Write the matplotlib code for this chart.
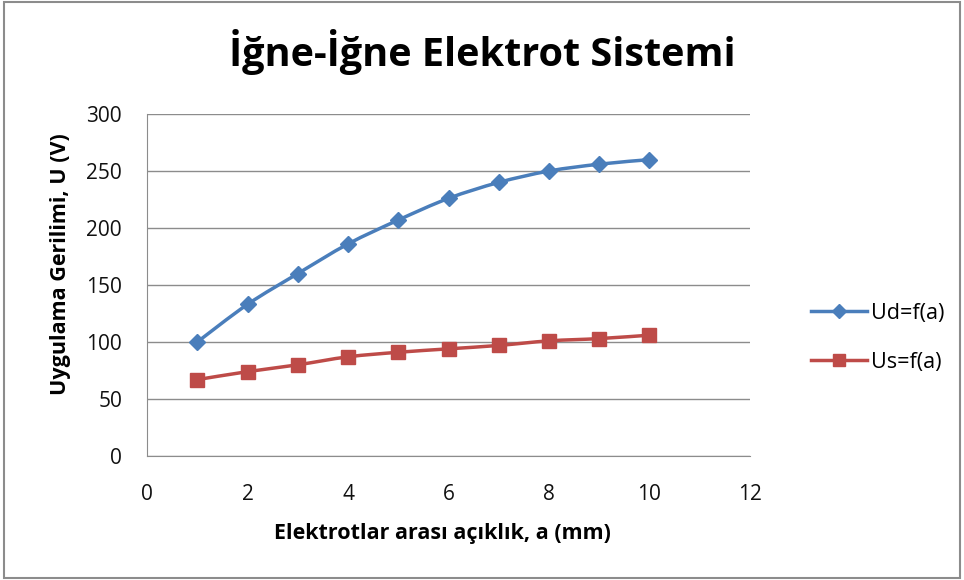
import numpy as np
import matplotlib.pyplot as plt
from matplotlib.path import Path
from matplotlib.patches import PathPatch, Rectangle

plt.rcParams['font.family'] = ['Open Sans', 'DejaVu Sans']

# data
a_mm = [1, 2, 3, 4, 5, 6, 7, 8, 9, 10]
ud = [100, 133, 160, 186, 207, 226, 240, 250, 256, 260]
us = [67, 74, 80, 87, 91, 94, 97, 101, 103, 106]

blue = '#4a7ebb'
red = '#be4b48'


def smooth_path(x, y):
    # Excel-like smoothed line: Catmull-Rom segments as cubic beziers
    x = np.asarray(x, float)
    y = np.asarray(y, float)
    verts = [(x[0], y[0])]
    codes = [Path.MOVETO]
    n = len(x)
    for i in range(n - 1):
        p0 = (x[max(i - 1, 0)], y[max(i - 1, 0)])
        p1 = (x[i], y[i])
        p2 = (x[i + 1], y[i + 1])
        p3 = (x[min(i + 2, n - 1)], y[min(i + 2, n - 1)])
        c1 = (p1[0] + (p2[0] - p0[0]) / 6, p1[1] + (p2[1] - p0[1]) / 6)
        c2 = (p2[0] - (p3[0] - p1[0]) / 6, p2[1] - (p3[1] - p1[1]) / 6)
        verts += [c1, c2, p2]
        codes += [Path.CURVE4] * 3
    return Path(verts, codes)


fig = plt.figure(figsize=(9.64, 5.8), dpi=100)
ax = fig.add_axes([0.1525, 0.2138, 0.6255, 0.5896])

for y, col, mk, ms, lab in [(ud, blue, 'D', 8, 'Ud=f(a)'), (us, red, 's', 10, 'Us=f(a)')]:
    ax.add_patch(PathPatch(smooth_path(a_mm, y), fill=False, edgecolor=col, lw=2.5, zorder=3))
    ax.plot(a_mm, y, linestyle='none', marker=mk, ms=ms, color=col, zorder=4)
    ax.plot([], [], color=col, lw=2.5, marker=mk, ms=ms * 0.9, label=lab)

ax.set_xlim(0, 12)
ax.set_ylim(0, 300)
ax.set_xticks(range(0, 13, 2))
ax.set_yticks(range(0, 301, 50))
ax.grid(axis='y', color='#8c8c8c', lw=1)
ax.set_axisbelow(True)
for s in ['top', 'right']:
    ax.spines[s].set_visible(False)
for s in ['left', 'bottom']:
    ax.spines[s].set_color('#8c8c8c')
ax.tick_params(length=0, labelsize=15, colors='#111111')
ax.tick_params(axis='y', pad=18)
ax.tick_params(axis='x', pad=20)

# axis titles placed like the Excel layout
fig.text(0.4585, 1 - 533 / 580, 'Elektrotlar arası açıklık, a (mm)', ha='center', va='center',
         fontsize=15.5, fontweight='bold')
fig.text(61 / 964, 1 - 264 / 580, 'Uygulama Gerilimi, U (V)', ha='center', va='center',
         rotation=90, fontsize=15.5, fontweight='bold')
fig.text(0.5, 1 - 52 / 580, 'İğne-İğne Elektrot Sistemi', ha='center', va='center',
         fontsize=28.5, fontweight='bold')

fig.legend(loc='center left', bbox_to_anchor=(0.821, 0.418), frameon=False,
           fontsize=15.5, handlelength=2.6, labelspacing=1.3, handletextpad=0.2)

fig.patches.append(Rectangle((0.004, 0.004), 0.992, 0.992, transform=fig.transFigure,
                             fill=False, edgecolor='#8c8c8c', lw=1.5))

fig.savefig('out.png', dpi=100)
